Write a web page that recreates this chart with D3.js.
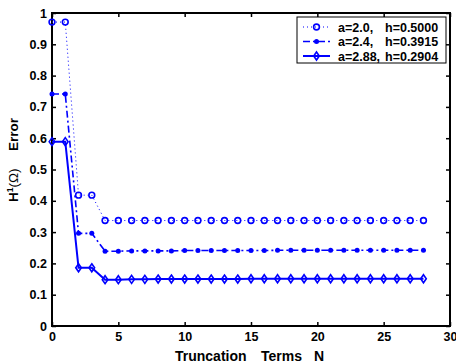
<!DOCTYPE html>
<html>
<head>
<meta charset="utf-8">
<script src="https://cdn.jsdelivr.net/npm/d3@7"></script>
<style>
  body { margin: 0; background: #fff; }
  text { font-family: "Liberation Sans", Arial, sans-serif; font-weight: bold; }
</style>
</head>
<body>
<div id="chart"></div>
<script>
// data
var termsN = d3.range(0, 29);
var errA20 = [0.971, 0.971, 0.418, 0.418].concat(d3.range(4, 29).map(function() { return 0.337; }));
var errA24 = [0.741, 0.741, 0.296, 0.296,
  0.239, 0.239, 0.240, 0.240, 0.240, 0.240, 0.241, 0.241, 0.241, 0.241, 0.241, 0.241,
  0.241, 0.242, 0.242, 0.242, 0.242, 0.242, 0.242, 0.242, 0.242, 0.242, 0.242, 0.242, 0.242];
var errA288 = [0.589, 0.589, 0.186, 0.186,
  0.148, 0.148, 0.149, 0.149, 0.150, 0.150, 0.150, 0.150, 0.150, 0.150, 0.150, 0.151,
  0.151, 0.151, 0.151, 0.151, 0.151, 0.151, 0.151, 0.151, 0.151, 0.151, 0.151, 0.151, 0.151];
var legendA = ["a=2.0,", "a=2.4,", "a=2.88,"];
var legendH = ["h=0.5000", "h=0.3915", "h=0.2904"];
var xTicks = [0, 5, 10, 15, 20, 25, 30];
var yTicks = d3.range(0, 11).map(function(i) { return i / 10; });

var svgWidth = 456;
var svgHeight = 363;
var margin = { top: 13, right: 6, bottom: 37, left: 52 };
var chart_width = svgWidth - margin.left - margin.right;
var chart_height = svgHeight - margin.top - margin.bottom;
var blue = "#0000ff";

var svg = d3.select("#chart").append("svg")
  .attr("width", svgWidth)
  .attr("height", svgHeight);

var chartGroup = svg.append("g")
  .attr("transform", `translate(${margin.left}, ${margin.top})`);

var xScale = d3.scaleLinear().domain([0, 30]).range([0, chart_width]);
var yScale = d3.scaleLinear().domain([0, 1]).range([chart_height, 0]);

// axes, ticks pointing inward on all four sides
function styleAxis(g) {
  g.select(".domain").remove();
  g.selectAll(".tick line").attr("stroke", "#000").attr("stroke-width", 1.5);
  g.selectAll(".tick text")
    .attr("font-size", 12.5)
    .attr("font-weight", "bold")
    .attr("font-family", "Liberation Sans, Arial, sans-serif")
    .attr("fill", "#000");
}

chartGroup.append("g")
  .attr("transform", `translate(0, ${chart_height})`)
  .call(d3.axisBottom(xScale).tickValues(xTicks).tickSize(-4).tickPadding(6).tickFormat(d3.format("d")))
  .call(styleAxis);
chartGroup.append("g")
  .call(d3.axisTop(xScale).tickValues(xTicks).tickSize(-4).tickFormat(""))
  .call(styleAxis);
chartGroup.append("g")
  .call(d3.axisLeft(yScale).tickValues(yTicks).tickSize(-4).tickPadding(5).tickFormat(function(d) { return d === 0 || d === 1 ? d3.format("d")(d) : d3.format(".1f")(d); }))
  .call(styleAxis);
chartGroup.append("g")
  .attr("transform", `translate(${chart_width}, 0)`)
  .call(d3.axisRight(yScale).tickValues(yTicks).tickSize(-4).tickFormat(""))
  .call(styleAxis);

chartGroup.append("rect")
  .attr("width", chart_width)
  .attr("height", chart_height)
  .attr("fill", "none")
  .attr("stroke", "#000")
  .attr("stroke-width", 2);

// series
var series = [
  { vals: errA20, dash: "1,3", width: 1, marker: "circle" },
  { vals: errA24, dash: "7,3,2,3", width: 1.6, marker: "dot" },
  { vals: errA288, dash: null, width: 2, marker: "diamond" }
];

function drawMarker(g, type) {
  if (type === "circle") {
    g.append("circle").attr("r", 2.9).attr("fill", "none").attr("stroke", blue).attr("stroke-width", 1.6);
  } else if (type === "dot") {
    g.append("circle").attr("r", 2.5).attr("fill", blue);
  } else {
    g.append("path").attr("d", "M0,-4L2.8,0L0,4L-2.8,0Z")
      .attr("fill", "none").attr("stroke", blue).attr("stroke-width", 1.6);
  }
}

var line = d3.line().x(function(d, i) { return xScale(termsN[i]); }).y(function(d) { return yScale(d); });

series.forEach(function(s) {
  chartGroup.append("path")
    .datum(s.vals)
    .attr("d", line)
    .attr("fill", "none")
    .attr("stroke", blue)
    .attr("stroke-width", s.width)
    .attr("stroke-dasharray", s.dash);
  s.vals.forEach(function(v, i) {
    var g = chartGroup.append("g").attr("transform", `translate(${xScale(termsN[i])}, ${yScale(v)})`);
    drawMarker(g, s.marker);
  });
});

// legend
var legend = svg.append("g").attr("transform", "translate(297, 17)");
legend.append("rect")
  .attr("width", 149).attr("height", 46)
  .attr("fill", "#fff").attr("stroke", "#000").attr("stroke-width", 1);
series.forEach(function(s, i) {
  var yy = 10 + i * 14.5;
  legend.append("line")
    .attr("x1", 6).attr("x2", 33).attr("y1", yy).attr("y2", yy)
    .attr("stroke", blue).attr("stroke-width", s.width).attr("stroke-dasharray", s.dash);
  drawMarker(legend.append("g").attr("transform", `translate(19.5, ${yy})`), s.marker);
  legend.append("text").attr("x", 41).attr("y", yy + 4.5).attr("font-size", 12.5).text(legendA[i]);
  legend.append("text").attr("x", 88).attr("y", yy + 4.5).attr("font-size", 12.5).text(legendH[i]);
});

// axis labels
var xLabel = svg.append("text")
  .attr("x", 175)
  .attr("y", 361)
  .attr("font-size", 14);
xLabel.append("tspan").text("Truncation");
xLabel.append("tspan").attr("x", 261).text("Terms");
xLabel.append("tspan").attr("x", 314).text("N");

var yLabel = svg.append("text")
  .attr("transform", "translate(18, 202) rotate(-90)")
  .attr("font-size", 13.5);
yLabel.append("tspan").text("H");
yLabel.append("tspan").attr("dy", -5).attr("font-size", 8.5).text("1");
yLabel.append("tspan").attr("dy", 5).attr("font-weight", "normal").text("(Ω)");
svg.append("text")
  .attr("transform", "translate(18, 151) rotate(-90)")
  .attr("font-size", 13.5)
  .text("Error");
</script>
</body>
</html>
